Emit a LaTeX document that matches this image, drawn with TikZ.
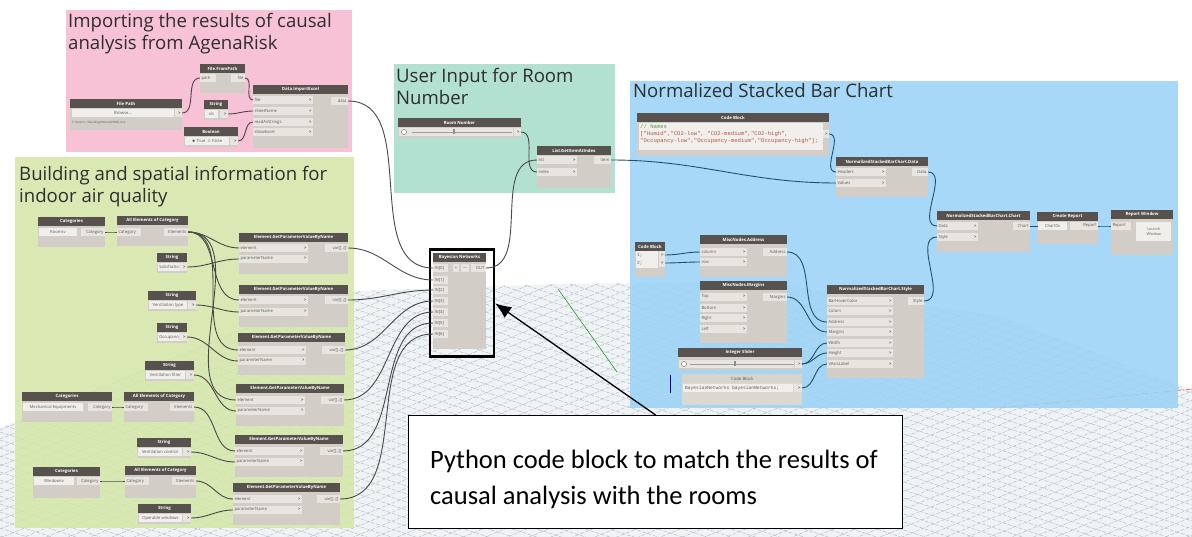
\documentclass[tikz,border=0pt]{standalone}
\usepackage{fontspec}
\setmainfont{Open Sans}
\newfontfamily\calib{Carlito}
\newfontfamily\monof{Liberation Mono}
\usetikzlibrary{arrows.meta}

\definecolor{pinkg}{HTML}{F6B9D1}
\definecolor{greeng}{HTML}{D5E7A9}
\definecolor{tealg}{HTML}{A9DDCB}
\definecolor{blueg}{HTML}{9BD3F6}
\definecolor{headc}{HTML}{57524E}
\definecolor{bodyc}{HTML}{D2CEC7}
\definecolor{rowc}{HTML}{E8E5E0}
\definecolor{fieldc}{HTML}{F1EFEC}
\definecolor{textc}{HTML}{5C5C5C}
\definecolor{wirec}{HTML}{484848}
\definecolor{wirebc}{HTML}{22506B}
\definecolor{floorc}{HTML}{EFF3F5}
\definecolor{gridc}{HTML}{AEB9C1}
\definecolor{titlec}{HTML}{2E2E2E}
\definecolor{cmtc}{HTML}{5E9A4C}
\definecolor{strc}{HTML}{B2563F}

\newcommand\hfont{\fontsize{4.3}{5}\selectfont\bfseries}
\newcommand\pfont{\fontsize{4.2}{5}\selectfont}
\newcommand\chev{\textbf{>}}

\tikzset{
  grp/.style={fill opacity=0.88, draw=none, inner sep=0, outer sep=0, anchor=north west},
  ttl/.style={anchor=base west, inner sep=0, font=\fontsize{18.6}{22}\selectfont, text=titlec},
  dbody/.style={fill=bodyc, draw=none, inner sep=0, outer sep=0, anchor=north west},
  dhead/.style={fill=headc, text=white, font=\hfont, inner sep=0, outer sep=0, minimum height=9pt, anchor=north west},
  prow/.style={fill=rowc, font=\pfont, text=textc, inner xsep=1.5pt, inner ysep=0, minimum height=8.5pt, outer sep=0},
  vfield/.style={fill=fieldc, font=\pfont, text=textc, inner xsep=1pt, inner ysep=0, minimum height=8.5pt, outer sep=0, anchor=west},
  wire/.style={draw=wirec, line width=0.9pt},
  wireb/.style={draw=wirebc, line width=0.9pt},
  gridl/.style={draw=gridc, line width=0.4pt, dash pattern=on 4pt off 1.5pt},
}

\newcommand\dyn[6]{%
  \node[dbody, minimum width={#4-#2}, minimum height={#5-#3}] (#1) at (#2,#3) {};
  \node[dhead, minimum width={#4-#2}] (#1-h) at (#2,#3) {#6};}
\newcommand\inp[5]{\node[prow, anchor=west] (#1) at (#2,#3) {\makebox[\dimexpr#4pt-3pt\relax][l]{#5\hfill\chev}};}
\newcommand\inpn[5]{\node[prow, anchor=west] (#1) at (#2,#3) {\makebox[\dimexpr#4pt-3pt\relax][l]{#5}};}
\newcommand\outp[5]{\node[prow, anchor=east] (#1) at (#2,#3) {\makebox[\dimexpr#4pt-3pt\relax][r]{#5}};}

\begin{document}
\begin{tikzpicture}[x=1pt,y=-1pt]
\useasboundingbox (0,0) rectangle (1192,537);
\fill[white] (0,0) rectangle (1192,537);

% ---------- perspective floor ----------
\begin{scope}
  \clip (0,428) -- (330,292) -- (560,284) -- (760,282) -- (1000,316) -- (1192,390) -- (1192,537) -- (0,537) -- cycle;
  \fill[floorc] (0,0) rectangle (1192,537);
  \foreach \c in {250,259,...,1400} \draw[gridl] (0,\c) -- (1192,\c-489);
  \foreach \c in {-200,-192,...,540} \draw[gridl] (0,\c) -- (1192,\c+393);
\end{scope}
\draw[green!55!black, line width=0.5pt] (558,289) -- (617,372);
\draw[red!70, line width=0.6pt, dash pattern=on 6pt off 2pt on 1pt off 2pt] (1000,408) -- (1192,389);

% ---------- groups ----------
\node[grp, fill=pinkg, minimum width=286, minimum height=142] (gpink) at (66,10) {};
\node[grp, fill=greeng, minimum width=339, minimum height=371] (ggreen) at (15,157) {};
\node[grp, fill=tealg, minimum width=221, minimum height=129] (gteal) at (394,64) {};
\node[grp, fill=blueg, minimum width=548, minimum height=327] (gblue) at (630,81) {};

\node[ttl] (tp1) at (68,28) {Importing the results of causal};
\node[ttl] (tp2) at (68,50) {analysis from AgenaRisk};
\node[ttl] (tg1) at (19,181) {Building and spatial information for};
\node[ttl] (tg2) at (19,203) {indoor air quality};
\node[ttl] (tt1) at (396,83) {User Input for Room};
\node[ttl] (tt2) at (396,105) {Number};
\node[ttl] (tb1) at (633,98) {Normalized Stacked Bar Chart};

% ---------- pink group nodes ----------
\dyn{ffp}{200}{64}{245}{93}{File.FromPath}
\inpn{ffp-path}{200}{78}{16}{path}
\outp{ffp-file}{245}{78}{14}{file}

\dyn{fp}{70}{99}{182}{130}{File Path}
\node[vfield, minimum width=102] (fp-b) at (72,113) {Browse...};
\outp{fp-o}{182}{113}{7}{\chev}
\node[anchor=west, inner sep=0, font=\fontsize{3}{3.5}\selectfont, text=textc] (fp-t) at (72,123) {C:\textbackslash Users\textbackslash ...\textbackslash BuildingIndoorAirRBN.xlsx};

\dyn{str0}{204}{100}{228}{120}{String}
\node[vfield, minimum width=13] (str0-v) at (205,114) {xls};
\outp{str0-o}{228}{114}{8}{\chev}

\dyn{bool}{184}{127}{238}{147}{Boolean}
\node[vfield, minimum width=44] (bool-v) at (185,141) {$\bullet$ True\enspace$\circ$ False};
\outp{bool-o}{238}{141}{8}{\chev}

\dyn{imp}{253}{85}{348}{148}{Data.ImportExcel}
\inp{imp-file}{253}{100}{60}{file}
\inp{imp-sheet}{253}{111}{60}{sheetName}
\inp{imp-read}{253}{122}{60}{readAsStrings}
\inp{imp-show}{253}{132}{60}{showExcel}
\outp{imp-data}{348}{101}{17}{data}

% ---------- teal group nodes ----------
\dyn{room}{398}{118}{521}{138}{Room Number}
\node[prow, anchor=west, minimum width=114] (room-s) at (399,132) {};
\draw[textc!60] (412,132) -- (512,132);
\node[circle, draw=textc, fill=white, minimum size=5, inner sep=0] (room-c) at (404,132) {};
\node[fill=textc!70, minimum width=1.5, minimum height=5, inner sep=0] (room-k) at (454,132) {};
\outp{room-o}{521}{132}{7}{\chev}

\dyn{gia}{537}{146}{611}{188}{List.GetItemAtIndex}
\inp{gia-list}{537}{160}{40}{list}
\inp{gia-index}{537}{172}{40}{index}
\outp{gia-item}{611}{160}{17}{item}

% ---------- Bayesian Networks ----------
\dyn{bn}{433}{253}{486}{349}{Bayesian Networks}
\inpn{bn-in0}{433}{268}{15}{IN[0]}
\inpn{bn-in1}{433}{280}{15}{IN[1]}
\inpn{bn-in2}{433}{290}{15}{IN[2]}
\inpn{bn-in3}{433}{301}{15}{IN[3]}
\inpn{bn-in4}{433}{312}{15}{IN[4]}
\inpn{bn-in5}{433}{323}{15}{IN[5]}
\inpn{bn-in6}{433}{334}{15}{IN[6]}
\node[prow, minimum width=6] (bn-plus) at (456,268) {+};
\node[prow, minimum width=6] (bn-minus) at (465,268) {$-$};
\outp{bn-out}{486}{268}{15}{OUT}
\node[draw=black, line width=2.6pt, minimum width=64, minimum height=107, inner sep=0, anchor=north west] (bnbox) at (428.5,248.5) {};

% ---------- green group nodes ----------
\dyn{cat1}{38}{217}{105}{247}{Categories}
\node[vfield, minimum width=38] (cat1-v) at (39,232) {Rooms\hfill v};
\outp{cat1-o}{105}{232}{24}{Category}
\dyn{aec1}{117}{216}{188}{246}{All Elements of Category}
\inpn{aec1-i}{117}{232}{24}{Category}
\outp{aec1-o}{188}{232}{24}{Elements}

\dyn{s1}{157}{253}{187}{273}{String}
\node[vfield, minimum width=20] (s1-v) at (158,267) {Satisfaction};
\outp{s1-o}{187}{267}{8}{\chev}
\dyn{gp1}{239}{233}{348}{274}{Element.GetParameterValueByName}
\inp{gp1-e}{239}{248}{69}{element}
\inp{gp1-p}{239}{259}{69}{parameterName}
\outp{gp1-o}{348}{248}{23}{var[]..[]}

\dyn{s2}{148}{291}{196}{311}{String}
\node[vfield, minimum width=38] (s2-v) at (149,305) {Ventilation type};
\outp{s2-o}{196}{305}{8}{\chev}
\dyn{gp2}{239}{285}{348}{327}{Element.GetParameterValueByName}
\inp{gp2-e}{239}{300}{69}{element}
\inp{gp2-p}{239}{312}{69}{parameterName}
\outp{gp2-o}{348}{300}{23}{var[]..[]}

\dyn{s3}{157}{323}{187}{343}{String}
\node[vfield, minimum width=20] (s3-v) at (158,337) {Occupancy};
\outp{s3-o}{187}{337}{8}{\chev}
\dyn{gp3}{238}{333}{345}{375}{Element.GetParameterValueByName}
\inp{gp3-e}{238}{350}{68}{element}
\inp{gp3-p}{238}{361}{68}{parameterName}
\outp{gp3-o}{345}{350}{23}{var[]..[]}

\dyn{s4}{145}{361}{194}{381}{String}
\node[vfield, minimum width=39] (s4-v) at (146,375) {Ventilation filter};
\outp{s4-o}{194}{375}{8}{\chev}
\dyn{gp4}{236}{384}{344}{426}{Element.GetParameterValueByName}
\inp{gp4-e}{236}{400}{69}{element}
\inp{gp4-p}{236}{411}{69}{parameterName}
\outp{gp4-o}{344}{400}{23}{var[]..[]}

\dyn{cat2}{22}{392}{112}{422}{Categories}
\node[vfield, minimum width=60] (cat2-v) at (23,407) {Mechanical Equipment\hfill v};
\outp{cat2-o}{112}{407}{24}{Category}
\dyn{aec2}{124}{392}{194}{422}{All Elements of Category}
\inpn{aec2-i}{124}{407}{24}{Category}
\outp{aec2-o}{194}{407}{24}{Elements}

\dyn{s5}{137}{438}{191}{458}{String}
\node[vfield, minimum width=44] (s5-v) at (138,452) {Ventilation control};
\outp{s5-o}{191}{452}{8}{\chev}
\dyn{gp5}{235}{435}{343}{477}{Element.GetParameterValueByName}
\inp{gp5-e}{235}{451}{69}{element}
\inp{gp5-p}{235}{462}{69}{parameterName}
\outp{gp5-o}{343}{451}{23}{var[]..[]}

\dyn{cat3}{33}{467}{100}{498}{Categories}
\node[vfield, minimum width=40] (cat3-v) at (34,481) {Windows\hfill v};
\outp{cat3-o}{100}{481}{23}{Category}
\dyn{aec3}{125}{466}{196}{498}{All Elements of Category}
\inpn{aec3-i}{125}{481}{24}{Category}
\outp{aec3-o}{196}{481}{24}{Elements}

\dyn{s6}{138}{504}{191}{524}{String}
\node[vfield, minimum width=43] (s6-v) at (139,518) {Operable windows};
\outp{s6-o}{191}{518}{8}{\chev}
\dyn{gp6}{233}{483}{340}{525}{Element.GetParameterValueByName}
\inp{gp6-e}{233}{499}{69}{element}
\inp{gp6-p}{233}{510}{69}{parameterName}
\outp{gp6-o}{340}{499}{23}{var[]..[]}

% ---------- blue group nodes ----------
\dyn{cb1}{637}{113}{829}{156}{Code Block}
\node[fill=fieldc, minimum width=184, minimum height=27, inner sep=0, anchor=north west] (cb1-f) at (639,123) {};
\node[anchor=base west, inner sep=0, font=\monof\fontsize{5.6}{6}\selectfont, text=cmtc] (cb1-l1) at (640,128.5) {// Names};
\node[anchor=base west, inner sep=0, font=\monof\fontsize{5.6}{6}\selectfont, text=strc] (cb1-l2) at (640,135.5) {["Humid","CO2-low", "CO2-medium","CO2-high",};
\node[anchor=base west, inner sep=0, font=\monof\fontsize{5.6}{6}\selectfont, text=strc] (cb1-l3) at (640,142.5) {"Occupancy-low","Occupancy-medium","Occupancy-high"];};
\outp{cb1-o}{829}{134}{6}{\chev}

\dyn{nd}{836}{157}{928}{197}{NormalizedStackedBarChart.Data}
\inp{nd-h}{836}{172}{50}{Headers}
\inp{nd-v}{836}{183}{50}{Values}
\outp{nd-o}{928}{172}{16}{Data}

\dyn{nc}{937}{211}{1030}{252}{NormalizedStackedBarChart.Chart}
\inp{nc-d}{937}{226}{41}{Data}
\inp{nc-s}{937}{237}{41}{Style}
\outp{nc-o}{1030}{226}{17}{Chart}

\dyn{cr}{1037}{212}{1098}{244}{Create Report}
\node[vfield, minimum width=29] (cr-i) at (1038,226) {Chart0\hfill v};
\outp{cr-o}{1098}{226}{28}{Report}

\dyn{rw}{1111}{210}{1173}{255}{Report Window}
\inpn{rw-i}{1111}{226}{20}{Report}
\node[fill=fieldc, font=\fontsize{3.8}{4.6}\selectfont, text=textc, align=center, minimum width=35, minimum height=19, inner sep=0, anchor=north west] (rw-b) at (1136,222) {Launch\\Window};

\dyn{cb2}{635}{242}{665}{277}{Code Block}
\node[fill=fieldc, minimum width=22, minimum height=17, inner sep=0, anchor=north west] (cb2-f) at (636,251) {};
\node[anchor=west, inner sep=0, font=\monof\fontsize{4.5}{5}\selectfont, text=textc] (cb2-l1) at (637,255) {1;};
\node[anchor=west, inner sep=0, font=\monof\fontsize{4.5}{5}\selectfont, text=textc] (cb2-l2) at (637,263) {2;};
\outp{cb2-o1}{665}{255}{6}{\chev}
\outp{cb2-o2}{665}{263}{6}{\chev}

\dyn{ad}{700}{235}{787}{277}{MiscNodes.Address}
\inp{ad-c}{700}{252}{47}{column}
\inp{ad-r}{700}{262}{47}{row}
\outp{ad-o}{787}{252}{24}{Address}

\dyn{mg}{700}{281}{787}{343}{MiscNodes.Margins}
\inp{mg-t}{700}{297}{47}{Top}
\inp{mg-b}{700}{308}{47}{Bottom}
\inp{mg-r}{700}{318}{47}{Right}
\inp{mg-l}{700}{329}{47}{Left}
\outp{mg-o}{787}{297}{24}{Margins}

\dyn{st}{827}{285}{924}{378}{NormalizedStackedBarChart.Style}
\inp{st-bh}{827}{301}{66}{BarHoverColor}
\inp{st-c}{827}{311}{66}{Colors}
\inp{st-a}{827}{322}{66}{Address}
\inp{st-m}{827}{332}{66}{Margins}
\inp{st-w}{827}{343}{66}{Width}
\inp{st-h}{827}{353}{66}{Height}
\inp{st-v}{827}{364}{66}{VAxisLabel}
\outp{st-o}{924}{301}{16}{Style}

\dyn{is}{678}{348}{802}{370}{Integer Slider}
\node[prow, anchor=west, minimum width=115] (is-s) at (679,364) {};
\draw[textc!60] (690,364) -- (794,364);
\node[circle, draw=textc, fill=white, minimum size=5, inner sep=0] (is-c) at (684,364) {};
\node[fill=textc!70, minimum width=1.5, minimum height=5, inner sep=0] (is-k) at (735,364) {};
\outp{is-o}{802}{364}{7}{\chev}

\node[dbody, fill=bodyc!80!white, minimum width=120, minimum height=31] (cb3) at (682,374) {};
\node[anchor=north west, fill=bodyc!90!white, text=textc, font=\fontsize{4.3}{5}\selectfont, minimum width=120, minimum height=9, inner sep=0] (cb3-h) at (682,374) {Code Block};
\node[fill=fieldc, anchor=west, minimum width=110, minimum height=8.5, inner sep=0] (cb3-f) at (683,388) {};
\node[anchor=west, inner sep=0, font=\monof\fontsize{4.6}{5}\selectfont, text=textc] (cb3-l) at (685,388) {BayesianNetworks bayesianNetworks;};
\outp{cb3-o}{802}{388}{8}{\chev}
\draw[blue!60!black, line width=1pt] (670,375) -- (670,393);

% ---------- wires ----------
\draw[wire] (fp-o.east) to[out=0,in=180] (ffp-path.west);
\draw[wire] (ffp-file.east) to[out=0,in=180] (imp-file.west);
\draw[wire] (str0-o.east) to[out=0,in=180] (imp-sheet.west);
\draw[wire] (bool-o.east) to[out=0,in=180] (imp-read.west);
\draw[wire] (imp-data.east) to[out=0,in=180] (bn-in0.west);

\draw[wire] (cat1-o.east) to[out=0,in=180] (aec1-i.west);
\draw[wire] (aec1-o.east) to[out=0,in=180] (gp1-e.west);
\draw[wire] (aec1-o.east) to[out=0,in=180] (gp2-e.west);
\draw[wire] (aec1-o.east) to[out=0,in=180] (gp3-e.west);
\draw[wire] (aec1-o.east) to[out=0,in=180] (gp4-e.west);
\draw[wire] (s1-o.east) to[out=0,in=180] (gp1-p.west);
\draw[wire] (s2-o.east) to[out=0,in=180] (gp2-p.west);
\draw[wire] (s3-o.east) to[out=0,in=180] (gp3-p.west);
\draw[wire] (s4-o.east) to[out=0,in=180] (gp4-p.west);
\draw[wire] (cat2-o.east) to[out=0,in=180] (aec2-i.west);
\draw[wire] (aec2-o.east) to[out=0,in=180] (gp5-e.west);
\draw[wire] (s5-o.east) to[out=0,in=180] (gp5-p.west);
\draw[wire] (cat3-o.east) to[out=0,in=180] (aec3-i.west);
\draw[wire] (aec3-o.east) to[out=0,in=180] (gp6-e.west);
\draw[wire] (s6-o.east) to[out=0,in=180] (gp6-p.west);

\draw[wire] (gp1-o.east) to[out=0,in=180] (bn-in1.west);
\draw[wire] (gp2-o.east) to[out=0,in=180] (bn-in2.west);
\draw[wire] (gp3-o.east) to[out=0,in=180] (bn-in3.west);
\draw[wire] (gp4-o.east) to[out=0,in=180] (bn-in4.west);
\draw[wire] (gp5-o.east) to[out=0,in=180] (bn-in5.west);
\draw[wire] (gp6-o.east) to[out=0,in=180] (bn-in6.west);

\draw[wire] (room-o.east) to[out=0,in=180] (gia-index.west);
\draw[wire] (bn-out.east) to[out=0,in=180] (gia-list.west);
\draw[wireb] (gia-item.east) to[out=0,in=180] (nd-v.west);

\draw[wireb] (cb1-o.east) to[out=0,in=180] (nd-h.west);
\draw[wireb] (nd-o.east) to[out=0,in=180] (nc-d.west);
\draw[wireb] (nc-o.east) to[out=0,in=180] (cr-i.west);
\draw[wireb] (cr-o.east) to[out=0,in=180] (rw-i.west);
\draw[wireb] (cb2-o1.east) to[out=0,in=180] (ad-c.west);
\draw[wireb] (cb2-o2.east) to[out=0,in=180] (ad-r.west);
\draw[wireb] (ad-o.east) to[out=0,in=180] (st-a.west);
\draw[wireb] (mg-o.east) to[out=0,in=180] (st-m.west);
\draw[wireb] (is-o.east) to[out=0,in=180] (st-w.west);
\draw[wireb] (is-o.east) to[out=0,in=180] (st-h.west);
\draw[wireb] (cb3-o.east) to[out=0,in=180] (st-v.west);
\draw[wireb] (st-o.east) to[out=0,in=180] (nc-s.west);

% ---------- callout ----------
\node[draw=black, line width=1.2pt, fill=white, minimum width=494, minimum height=113, inner sep=0, anchor=north west] (callout) at (408,415) {};
\node[anchor=base west, inner sep=0, font=\calib\fontsize{26.5}{32}\selectfont] (cl1) at (430,468) {Python code block to match the results of};
\node[anchor=base west, inner sep=0, font=\calib\fontsize{26.5}{32}\selectfont] (cl2) at (430,504) {causal analysis with the rooms};
\draw[line width=1.3pt, -{Latex[length=16pt,width=13pt]}] (callout.north) -- (bnbox.east);
\end{tikzpicture}
\end{document}
